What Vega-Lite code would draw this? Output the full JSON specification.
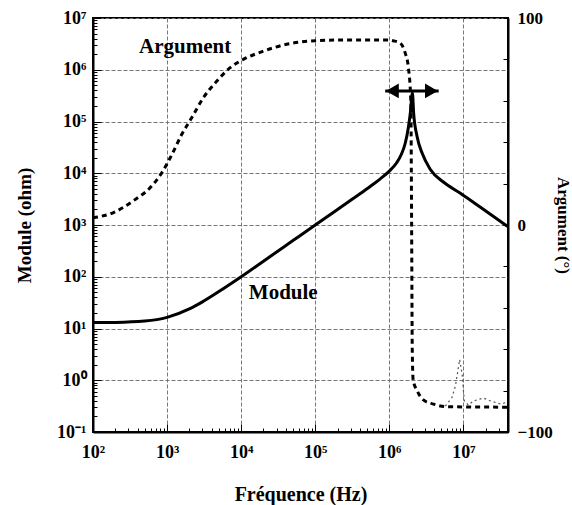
{
  "$schema": "https://vega.github.io/schema/vega-lite/v6.json",
  "autosize": {"type": "none"},
  "padding": {"left": 93, "top": 18, "right": 64, "bottom": 73},
  "width": 415,
  "height": 414,
  "background": "white",
  "config": {
    "view": {"stroke": "black", "strokeWidth": 2},
    "font": "Liberation Serif",
    "axis": {
      "labelFont": "Liberation Serif",
      "labelFontWeight": "bold",
      "labelFontSize": 18,
      "labelColor": "black",
      "titleFont": "Liberation Serif",
      "titleFontWeight": "bold",
      "titleFontSize": 19,
      "titleColor": "black",
      "domainColor": "black",
      "domainWidth": 2,
      "tickColor": "black",
      "labelOverlap": false,
      "labelFlush": false
    }
  },
  "datasets": {
    "module": [
      {"f": 100, "z": 13}, {"f": 200, "z": 13.1}, {"f": 500, "z": 13.9}, {"f": 1000, "z": 16.4},
      {"f": 2000, "z": 23.9}, {"f": 3000, "z": 32.7}, {"f": 5000, "z": 51.7}, {"f": 10000, "z": 100},
      {"f": 20000, "z": 200}, {"f": 50000, "z": 500}, {"f": 100000, "z": 1000}, {"f": 200000, "z": 2000},
      {"f": 406000, "z": 4050}, {"f": 600000, "z": 6050}, {"f": 755000, "z": 7800}, {"f": 1000000, "z": 11000}, {"f": 1250000, "z": 15800}, {"f": 1450000, "z": 23000},
      {"f": 1640000, "z": 38000}, {"f": 1810000, "z": 77600}, {"f": 1920000, "z": 145000}, {"f": 2050000, "z": 355000},
      {"f": 2130000, "z": 145000}, {"f": 2370000, "z": 51300}, {"f": 2770000, "z": 24500}, {"f": 3580000, "z": 11800},
      {"f": 5420000, "z": 6700}, {"f": 9100000, "z": 4100}, {"f": 17000000, "z": 2200}, {"f": 40000000, "z": 930}
    ],
    "argument": [
      {"f": 100, "a": 3.5}, {"f": 186, "a": 5.9}, {"f": 347, "a": 11.6}, {"f": 589, "a": 18},
      {"f": 851, "a": 25.3}, {"f": 1160, "a": 34}, {"f": 1580, "a": 43.8}, {"f": 2150, "a": 51.8},
      {"f": 3090, "a": 61.5}, {"f": 4680, "a": 69.5}, {"f": 7100, "a": 76}, {"f": 10700, "a": 80},
      {"f": 20000, "a": 84}, {"f": 41000, "a": 87.3}, {"f": 100000, "a": 89}, {"f": 300000, "a": 89.4},
      {"f": 1000000, "a": 89.4}, {"f": 1130000, "a": 89}, {"f": 1410000, "a": 87.8}, {"f": 1640000, "a": 83},
      {"f": 1810000, "a": 76}, {"f": 1950000, "a": 60}, {"f": 2000000, "a": 0}, {"f": 2040000, "a": -60},
      {"f": 2100000, "a": -75}, {"f": 2370000, "a": -80}, {"f": 2880000, "a": -84.5}, {"f": 3930000, "a": -86.5},
      {"f": 6000000, "a": -87.8}, {"f": 40000000, "a": -88}
    ],
    "spike": [
      {"f": 5700000, "a": -87.5}, {"f": 7000000, "a": -83.4}, {"f": 7800000, "a": -77.8}, {"f": 8900000, "a": -65},
      {"f": 9600000, "a": -72}, {"f": 10300000, "a": -85}, {"f": 11700000, "a": -87}, {"f": 13700000, "a": -85},
      {"f": 18600000, "a": -83.6}, {"f": 23200000, "a": -85}, {"f": 31600000, "a": -86.5}, {"f": 40000000, "a": -85.5}
    ],
    "arrow": [{"f1": 880000, "f2": 4640000, "z": 390000}],
    "headLeft": [{"f": 1100000, "z": 390000}],
    "headRight": [{"f": 3700000, "z": 390000}],
    "moduleLabel": [{"f": 37000, "z": 48.5, "t": "Module"}],
    "argLabel": [{"f": 1750, "a": 86, "t": "Argument"}]
  },
  "layer": [
    {
      "layer": [
        {
          "data": {"name": "module"},
          "mark": {"type": "line", "color": "black", "strokeWidth": 3, "interpolate": "monotone"},
          "encoding": {
            "x": {
              "field": "f", "type": "quantitative",
              "scale": {"type": "log", "domain": [100, 40000000], "nice": false},
              "axis": {
                "title": "Fréquence (Hz)",
                "titlePadding": 19,
                "titleFontSize": 20,
                "values": [100,200,300,400,500,600,700,800,900,1000,2000,3000,4000,5000,6000,7000,8000,9000,10000,20000,30000,40000,50000,60000,70000,80000,90000,100000,200000,300000,400000,500000,600000,700000,800000,900000,1000000,2000000,3000000,4000000,5000000,6000000,7000000,8000000,9000000,10000000,20000000,30000000,40000000],
                "labelExpr": "abs(log(datum.value)/LN10 - round(log(datum.value)/LN10)) > 0.001 ? '' : '10' + (round(log(datum.value)/LN10)==2?'²':round(log(datum.value)/LN10)==3?'³':round(log(datum.value)/LN10)==4?'⁴':round(log(datum.value)/LN10)==5?'⁵':round(log(datum.value)/LN10)==6?'⁶':'⁷')",
                "labelPadding": 19,
                "grid": true,
                "gridColor": "#777",
                "gridDash": [4, 2],
                "gridWidth": 1,
                "gridOpacity": {"condition": {"test": "abs(log(datum.value)/LN10 - round(log(datum.value)/LN10)) < 0.001", "value": 1}, "value": 0},
                "tickSize": {"condition": {"test": "abs(log(datum.value)/LN10 - round(log(datum.value)/LN10)) < 0.001", "value": -8}, "value": -4},
                "tickWidth": 1
              }
            },
            "y": {
              "field": "z", "type": "quantitative",
              "scale": {"type": "log", "domain": [0.1, 10000000], "nice": false},
              "axis": {
                "orient": "left",
                "title": "Module (ohm)",
                "titlePadding": 22,
                "values": [0.1,0.2,0.3,0.4,0.5,0.6,0.7,0.8,0.9,1,2,3,4,5,6,7,8,9,10,20,30,40,50,60,70,80,90,100,200,300,400,500,600,700,800,900,1000,2000,3000,4000,5000,6000,7000,8000,9000,10000,20000,30000,40000,50000,60000,70000,80000,90000,100000,200000,300000,400000,500000,600000,700000,800000,900000,1000000,2000000,3000000,4000000,5000000,6000000,7000000,8000000,9000000,10000000],
                "labelExpr": "abs(log(datum.value)/LN10 - round(log(datum.value)/LN10)) > 0.001 ? '' : '10' + (round(log(datum.value)/LN10)==-1?'⁻¹':round(log(datum.value)/LN10)==0?'⁰':round(log(datum.value)/LN10)==1?'¹':round(log(datum.value)/LN10)==2?'²':round(log(datum.value)/LN10)==3?'³':round(log(datum.value)/LN10)==4?'⁴':round(log(datum.value)/LN10)==5?'⁵':round(log(datum.value)/LN10)==6?'⁶':'⁷')",
                "labelPadding": 15,
                "grid": true,
                "gridColor": "#777",
                "gridDash": [4, 2],
                "gridWidth": 1,
                "gridOpacity": {"condition": {"test": "abs(log(datum.value)/LN10 - round(log(datum.value)/LN10)) < 0.001", "value": 1}, "value": 0},
                "tickSize": {"condition": {"test": "abs(log(datum.value)/LN10 - round(log(datum.value)/LN10)) < 0.001", "value": -8}, "value": -4},
                "tickWidth": 1
              }
            }
          }
        },
        {
          "data": {"name": "arrow"},
          "mark": {"type": "rule", "color": "black", "strokeWidth": 3},
          "encoding": {
            "x": {"field": "f1", "type": "quantitative"},
            "x2": {"field": "f2"},
            "y": {"field": "z", "type": "quantitative"}
          }
        },
        {
          "data": {"name": "headLeft"},
          "mark": {"type": "point", "shape": "triangle-left", "filled": true, "color": "black", "size": 220, "opacity": 1},
          "encoding": {
            "x": {"field": "f", "type": "quantitative"},
            "y": {"field": "z", "type": "quantitative"}
          }
        },
        {
          "data": {"name": "headRight"},
          "mark": {"type": "point", "shape": "triangle-right", "filled": true, "color": "black", "size": 220, "opacity": 1},
          "encoding": {
            "x": {"field": "f", "type": "quantitative"},
            "y": {"field": "z", "type": "quantitative"}
          }
        },
        {
          "data": {"name": "moduleLabel"},
          "mark": {"type": "text", "font": "Liberation Serif", "fontWeight": "bold", "fontSize": 21, "color": "black", "align": "center", "baseline": "middle"},
          "encoding": {
            "x": {"field": "f", "type": "quantitative"},
            "y": {"field": "z", "type": "quantitative"},
            "text": {"field": "t"}
          }
        }
      ]
    },
    {
      "layer": [
        {
          "data": {"name": "argument"},
          "mark": {"type": "line", "color": "black", "strokeWidth": 3, "strokeDash": [5, 4], "interpolate": "monotone"},
          "encoding": {
            "x": {"field": "f", "type": "quantitative"},
            "y": {
              "field": "a", "type": "quantitative",
              "scale": {"domain": [-100, 100], "nice": false},
              "axis": {
                "orient": "right",
                "title": "Argument (°)",
                "titleFontSize": 17,
                "titlePadding": 1,
                "values": [-100,-90,-80,-70,-60,-50,-40,-30,-20,-10,0,10,20,30,40,50,60,70,80,90,100],
                "labelExpr": "datum.value % 50 == 0 ? datum.label : ''",
                "labelFontSize": 17,
                "labelPadding": 14,
                "grid": false,
                "tickSize": -5,
                "tickWidth": 1
              }
            }
          }
        },
        {
          "data": {"name": "spike"},
          "mark": {"type": "line", "color": "#555", "strokeWidth": 1.2, "strokeDash": [2, 3]},
          "encoding": {
            "x": {"field": "f", "type": "quantitative"},
            "y": {"field": "a", "type": "quantitative"}
          }
        },
        {
          "data": {"name": "argLabel"},
          "mark": {"type": "text", "font": "Liberation Serif", "fontWeight": "bold", "fontSize": 21, "color": "black", "align": "center", "baseline": "middle"},
          "encoding": {
            "x": {"field": "f", "type": "quantitative"},
            "y": {"field": "a", "type": "quantitative"},
            "text": {"field": "t"}
          }
        }
      ]
    }
  ],
  "resolve": {"scale": {"y": "independent"}, "axis": {"y": "independent"}}
}
